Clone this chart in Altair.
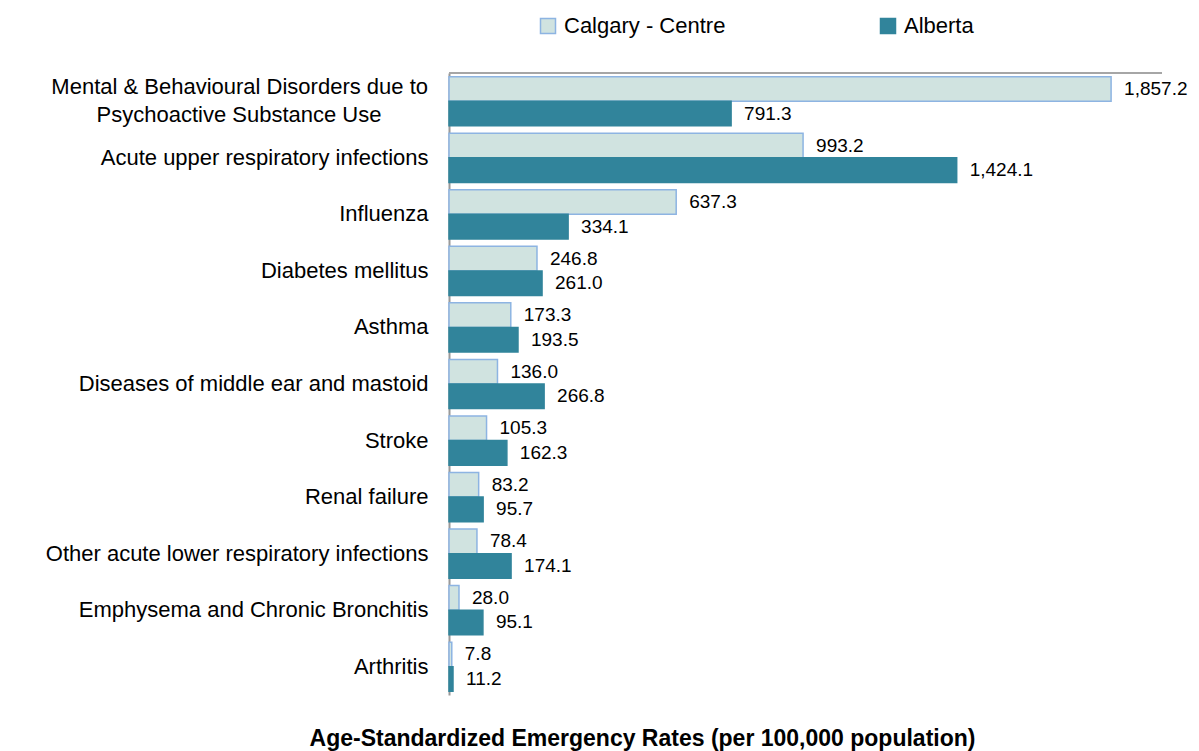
import altair as alt
import pandas as pd

categories = [
    "Mental & Behavioural Disorders due to Psychoactive Substance Use",
    "Acute upper respiratory infections",
    "Influenza",
    "Diabetes mellitus",
    "Asthma",
    "Diseases of middle ear and mastoid",
    "Stroke",
    "Renal failure",
    "Other acute lower respiratory infections",
    "Emphysema and Chronic Bronchitis",
    "Arthritis",
]
first_label_lines = ["Mental & Behavioural Disorders due to", "Psychoactive Substance Use"]
series = ["Calgary - Centre", "Alberta"]
calgary = [1857.2, 993.2, 637.3, 246.8, 173.3, 136.0, 105.3, 83.2, 78.4, 28.0, 7.8]
alberta = [791.3, 1424.1, 334.1, 261.0, 193.5, 266.8, 162.3, 95.7, 174.1, 95.1, 11.2]
fills = ["#D0E3E0", "#31849B"]
strokes = ["#8DB4E2", "#31849B"]

rows = []
for c, a, b in zip(categories, calgary, alberta):
    rows.append({"category": c, "series": series[0], "value": a})
    rows.append({"category": c, "series": series[1], "value": b})
df = pd.DataFrame(rows)

FONT = "Liberation Sans"
W, H = 713, 622
LABEL_FS = 22

y_enc = alt.Y(
    "category:N",
    sort=categories,
    scale=alt.Scale(paddingInner=0.13, paddingOuter=0.065),
    axis=alt.Axis(
        title=None,
        ticks=False,
        labelPadding=21,
        labelFont=FONT,
        labelFontSize=LABEL_FS,
        labelColor="#000000",
        labelLimit=0,
        labelExpr="indexof(datum.label, 'Mental') == 0 ? '' : datum.label",
        domainColor="#999999",
        domainWidth=2,
    ),
)
yoff = alt.YOffset("series:N", sort=series, scale=alt.Scale(domain=series, paddingInner=0, paddingOuter=0))
x_enc = alt.X(
    "value:Q",
    scale=alt.Scale(domain=[0, 2000], nice=False),
    axis=alt.Axis(
        title="Age-Standardized Emergency Rates (per 100,000 population)",
        titleFont=FONT,
        titleFontSize=23,
        titleFontWeight="bold",
        titleColor="#000000",
        titleX=193,
        titleY=50,
        titleAlign="center",
        titleBaseline="alphabetic",
        labels=False,
        ticks=False,
        domain=False,
        grid=False,
    ),
)

legend = alt.Legend(
    title=None,
    orient="none",
    direction="horizontal",
    legendX=88,
    legendY=-58,
    symbolType="square",
    symbolSize=225,
    symbolStrokeWidth=1.5,
    labelFont=FONT,
    labelFontSize=22,
    labelColor="#000000",
    labelOffset=5,
    labelLimit=0,
    columnPadding=151,
    padding=0,
)

bars = alt.Chart(df).mark_bar(strokeWidth=1.5).encode(
    y=y_enc,
    yOffset=yoff,
    x=x_enc,
    fill=alt.Fill("series:N", sort=series, scale=alt.Scale(domain=series, range=fills), legend=legend),
    stroke=alt.Stroke("series:N", sort=series, scale=alt.Scale(domain=series, range=strokes), legend=legend),
)

labels = alt.Chart(df).mark_text(
    align="left", baseline="middle", dx=13, font=FONT, fontSize=19, color="#000000"
).encode(
    y=alt.Y("category:N", sort=categories),
    yOffset=alt.YOffset("series:N", sort=series),
    x=alt.X("value:Q"),
    text=alt.Text("value:Q", format=",.1f"),
)

# two-line category label for the first category
first_df = pd.DataFrame({"category": [categories[0]], "t": [first_label_lines[0]]})
second_df = pd.DataFrame({"category": [categories[0]], "t": [first_label_lines[1]]})
line1 = alt.Chart(first_df).mark_text(
    align="right", baseline="middle", dy=-14, font=FONT, fontSize=LABEL_FS, color="#000000"
).encode(y=alt.Y("category:N", sort=categories), x=alt.value(-21), text="t:N")
line2 = alt.Chart(second_df).mark_text(
    align="center", baseline="middle", dy=14, font=FONT, fontSize=LABEL_FS, color="#000000"
).encode(y=alt.Y("category:N", sort=categories), x=alt.value(-21 - 189), text="t:N")

topline = alt.Chart(pd.DataFrame({"a": [0]})).mark_rule(color="#A6A6A6", strokeWidth=2).encode(
    x=alt.value(0), x2=alt.value(W), y=alt.value(0)
)

chart = (
    alt.layer(bars, labels, line1, line2, topline)
    .properties(
        width=W,
        height=H,
        autosize=alt.AutoSizeParams(type="none"),
        padding={"left": 441, "top": 65, "right": 29, "bottom": 56},
        background="#FFFFFF",
    )
    .configure_view(stroke=None)
)

chart.save("out.html", embed_options={"renderer": "svg", "actions": False})
